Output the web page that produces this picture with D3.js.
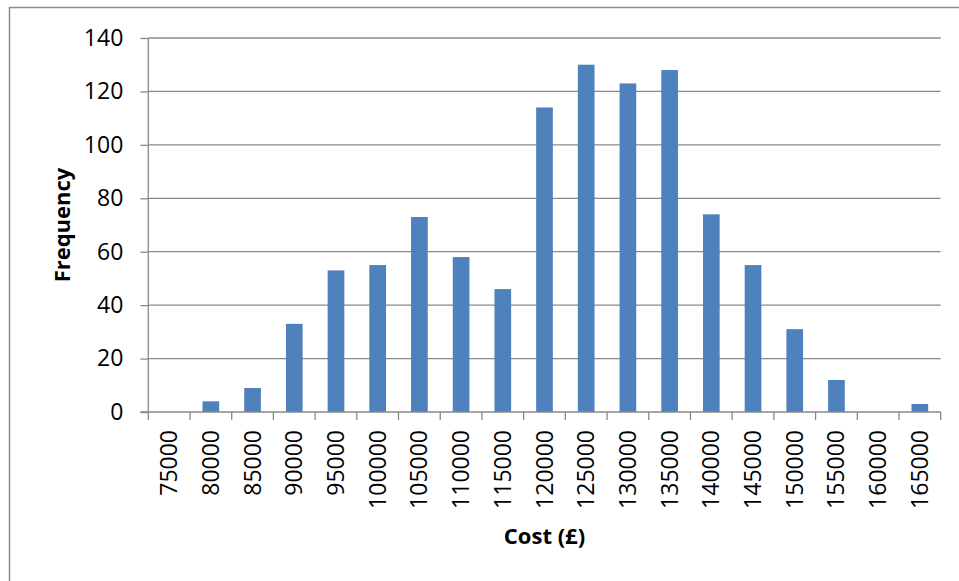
<!DOCTYPE html>
<html>
<head>
<meta charset="utf-8">
<script src="https://cdn.jsdelivr.net/npm/d3@7"></script>
<style>
  html, body { margin: 0; padding: 0; background: #fff; }
  svg { display: block; }
  text { font-family: "Open Sans", "Liberation Sans", sans-serif; fill: #000; }
</style>
</head>
<body>
<svg id="chart" width="959" height="581"></svg>
<script>
const categories = ["75000","80000","85000","90000","95000","100000","105000","110000","115000","120000","125000","130000","135000","140000","145000","150000","155000","160000","165000"];
const frequency = [0, 4, 9, 33, 53, 55, 73, 58, 46, 114, 130, 123, 128, 74, 55, 31, 12, 0, 3];
const yTicks = [0, 20, 40, 60, 80, 100, 120, 140];
const xTitle = "Cost (£)";
const yTitle = "Frequency";

const svg = d3.select("#chart");
const plotLeft = 148.3, plotRight = 940.7, plotTop = 38, plotBottom = 412;
const grid = "#898989";

// outer chart border
svg.append("rect").attr("x", 9.5).attr("y", 7.5).attr("width", 980).attr("height", 600)
  .attr("fill", "none").attr("stroke", "#8c8c8c").attr("stroke-width", 1.5);

const x = d3.scaleBand().domain(categories).range([plotLeft, plotRight]).paddingInner(0.6).paddingOuter(0.3);
const xb = d3.scaleBand().domain(categories).range([plotLeft, plotRight]);
const y = d3.scaleLinear().domain([0, 140]).range([plotBottom, plotTop]);

// gridlines
svg.append("g").selectAll("line").data(yTicks.filter(d => d > 0)).join("line")
  .attr("x1", plotLeft).attr("x2", plotRight)
  .attr("y1", d => y(d)).attr("y2", d => y(d))
  .attr("stroke", grid).attr("stroke-width", 1.3);

// bars
svg.append("g").selectAll("rect").data(categories).join("rect")
  .attr("x", d => x(d)).attr("width", x.bandwidth())
  .attr("y", (d, i) => y(frequency[i]))
  .attr("height", (d, i) => y(0) - y(frequency[i]))
  .attr("fill", "#4F81BD");

// y axis
const yAxis = svg.append("g").attr("transform", `translate(${plotLeft},0)`)
  .call(d3.axisLeft(y).tickValues(yTicks).tickSize(8).tickPadding(17));
yAxis.select(".domain").attr("stroke", grid).attr("stroke-width", 1.3).attr("d", `M0,${plotTop}V${plotBottom}`);
yAxis.selectAll(".tick line").attr("stroke", grid).attr("stroke-width", 1.3);
yAxis.selectAll(".tick text").style("font-size", "23px").style("font-family", "'Open Sans', sans-serif").attr("fill", "#000");

// x axis
const xAxis = svg.append("g").attr("transform", `translate(0,${plotBottom})`)
  .call(d3.axisBottom(xb).tickSize(0));
xAxis.select(".domain").attr("stroke", grid).attr("stroke-width", 1.3).attr("d", `M${plotLeft - 8},0H${plotRight}`);
xAxis.selectAll(".tick text")
  .style("font-size", "23px").style("font-family", "'Open Sans', sans-serif").attr("fill", "#000")
  .attr("transform", "rotate(-90)")
  .attr("text-anchor", "end")
  .attr("x", -18).attr("y", 0).attr("dy", "0.35em");
// boundary tick marks between categories
const bounds = categories.map(c => xb(c)).concat([plotRight]);
svg.append("g").selectAll("line").data(bounds).join("line")
  .attr("x1", d => d).attr("x2", d => d)
  .attr("y1", plotBottom).attr("y2", plotBottom + 8)
  .attr("stroke", grid).attr("stroke-width", 1.3);

// titles
svg.append("text").attr("x", (plotLeft + plotRight) / 2).attr("y", 544)
  .attr("text-anchor", "middle").style("font-size", "22px").style("font-weight", "bold").text(xTitle);
svg.append("text").attr("transform", `translate(70,225) rotate(-90)`)
  .attr("text-anchor", "middle").style("font-size", "22px").style("font-weight", "bold").text(yTitle);
</script>
</body>
</html>
